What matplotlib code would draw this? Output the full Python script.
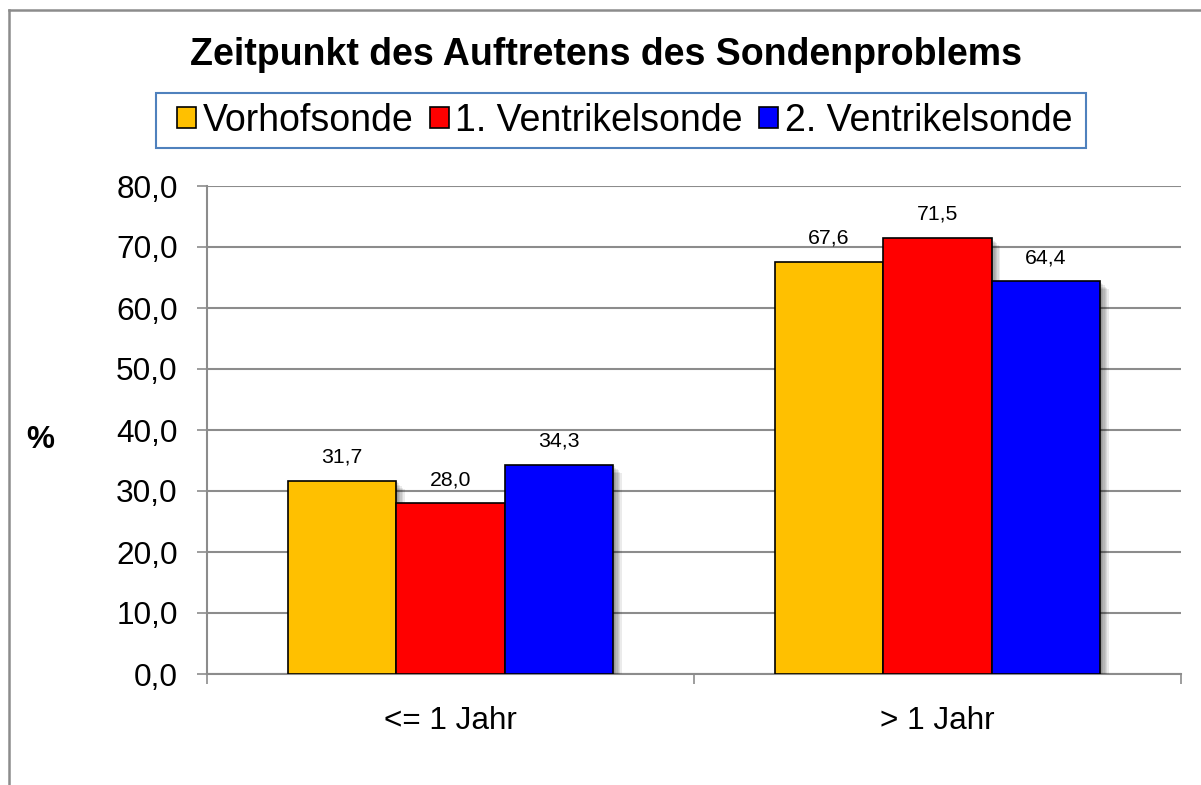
import matplotlib
matplotlib.use("Agg")
import matplotlib.pyplot as plt
import matplotlib.patheffects as pe
from matplotlib.lines import Line2D
import numpy as np

plt.rcParams['font.family'] = ['Liberation Sans', 'DejaVu Sans']

title = "Zeitpunkt des Auftretens des Sondenproblems"
categories = ["<= 1 Jahr", "> 1 Jahr"]
series_names = ["Vorhofsonde", "1. Ventrikelsonde", "2. Ventrikelsonde"]
vorhof = [31.7, 67.6]
ventrikel1 = [28.0, 71.5]
ventrikel2 = [34.3, 64.4]
colors = ["#FFC000", "#FF0000", "#0000FF"]
yticks = [0, 10, 20, 30, 40, 50, 60, 70, 80]

W, H = 1201, 785
fig = plt.figure(figsize=(W / 100, H / 100), dpi=100)
ax = fig.add_axes([207 / W, 1 - 674 / H, (1181 - 207) / W, (674 - 186) / H])

x = np.arange(len(categories))
bw = 0.223
series = [vorhof, ventrikel1, ventrikel2]
shadow = [pe.SimplePatchShadow(offset=(d, -d), shadow_rgbFace='black', alpha=0.08) for d in (1.0, 2.0, 3.0, 4.0, 5.0, 6.0)]
for i, (vals, col) in enumerate(zip(series, colors)):
    pos = x + (i - 1) * bw
    bars = ax.bar(pos, vals, width=bw, color=col, edgecolor='black', linewidth=1.2, zorder=3,
                  label=series_names[i])
    for b in bars:
        b.set_path_effects(shadow + [pe.Normal()])
    for p, v in zip(pos, vals):
        ax.annotate(f"{v:.1f}".replace('.', ','), (p, v), xytext=(0, 10), textcoords='offset points',
                    ha='center', va='bottom', fontsize=15.3, zorder=4)

ax.set_xlim(-0.5, 1.5)
ax.set_ylim(0, 80)
ax.set_yticks(yticks)
ax.set_yticklabels([f"{t:.1f}".replace('.', ',') for t in yticks], fontsize=22.7)
ax.yaxis.grid(True, color='#8c8c8c', linewidth=1.5, zorder=0)
ax.set_axisbelow(True)
ax.tick_params(axis='y', direction='out', length=7, width=1.2, color='#8c8c8c', pad=14)
ax.set_xticks(x)
ax.set_xticklabels(categories, fontsize=22.7)
ax.tick_params(axis='x', which='major', length=0, pad=23)
ax.set_xticks([-0.5, 0.5, 1.5], minor=True)
ax.tick_params(axis='x', which='minor', direction='out', length=7, width=1.2, color='#8c8c8c')
for s in ['top', 'right']:
    ax.spines[s].set_visible(False)
for s in ['left', 'bottom']:
    ax.spines[s].set_color('#8c8c8c')
    ax.spines[s].set_linewidth(1.5)

fig.text(606 / W, 1 - 55 / H, title, ha='center', va='center', fontsize=27, fontweight='bold')
fig.text(40 / W, 1 - 440 / H, "%", ha='center', va='center', fontsize=22.7, fontweight='bold')

# legend frame (drawn separately for Excel-like asymmetric padding)
fig.add_artist(plt.Rectangle((156 / W, 1 - 148 / H), (1086 - 156) / W, (148 - 93) / H,
                             transform=fig.transFigure, facecolor='white', edgecolor='#4F81BD',
                             linewidth=1.5, zorder=1))
proxies = [plt.Rectangle((0, 0), 1, 1, facecolor=c, edgecolor='black', linewidth=1.2) for c in colors]
leg = fig.legend(proxies, series_names, loc='center left', bbox_to_anchor=(177 / W, 1 - 121 / H), ncol=3,
                 fontsize=27.0, handlelength=0.5, handleheight=0.5, handletextpad=0.18,
                 columnspacing=0.44, borderpad=0, borderaxespad=0, frameon=False)
leg.set_zorder(2)

# outer chart border
fig.add_artist(Line2D([8.5 / W, 1.0], [1 - 9.5 / H, 1 - 9.5 / H], transform=fig.transFigure, color='#8c8c8c', linewidth=1.8))
fig.add_artist(Line2D([8.5 / W, 8.5 / W], [0, 1 - 9.5 / H], transform=fig.transFigure, color='#8c8c8c', linewidth=1.8))

fig.savefig("out.png", dpi=100)
